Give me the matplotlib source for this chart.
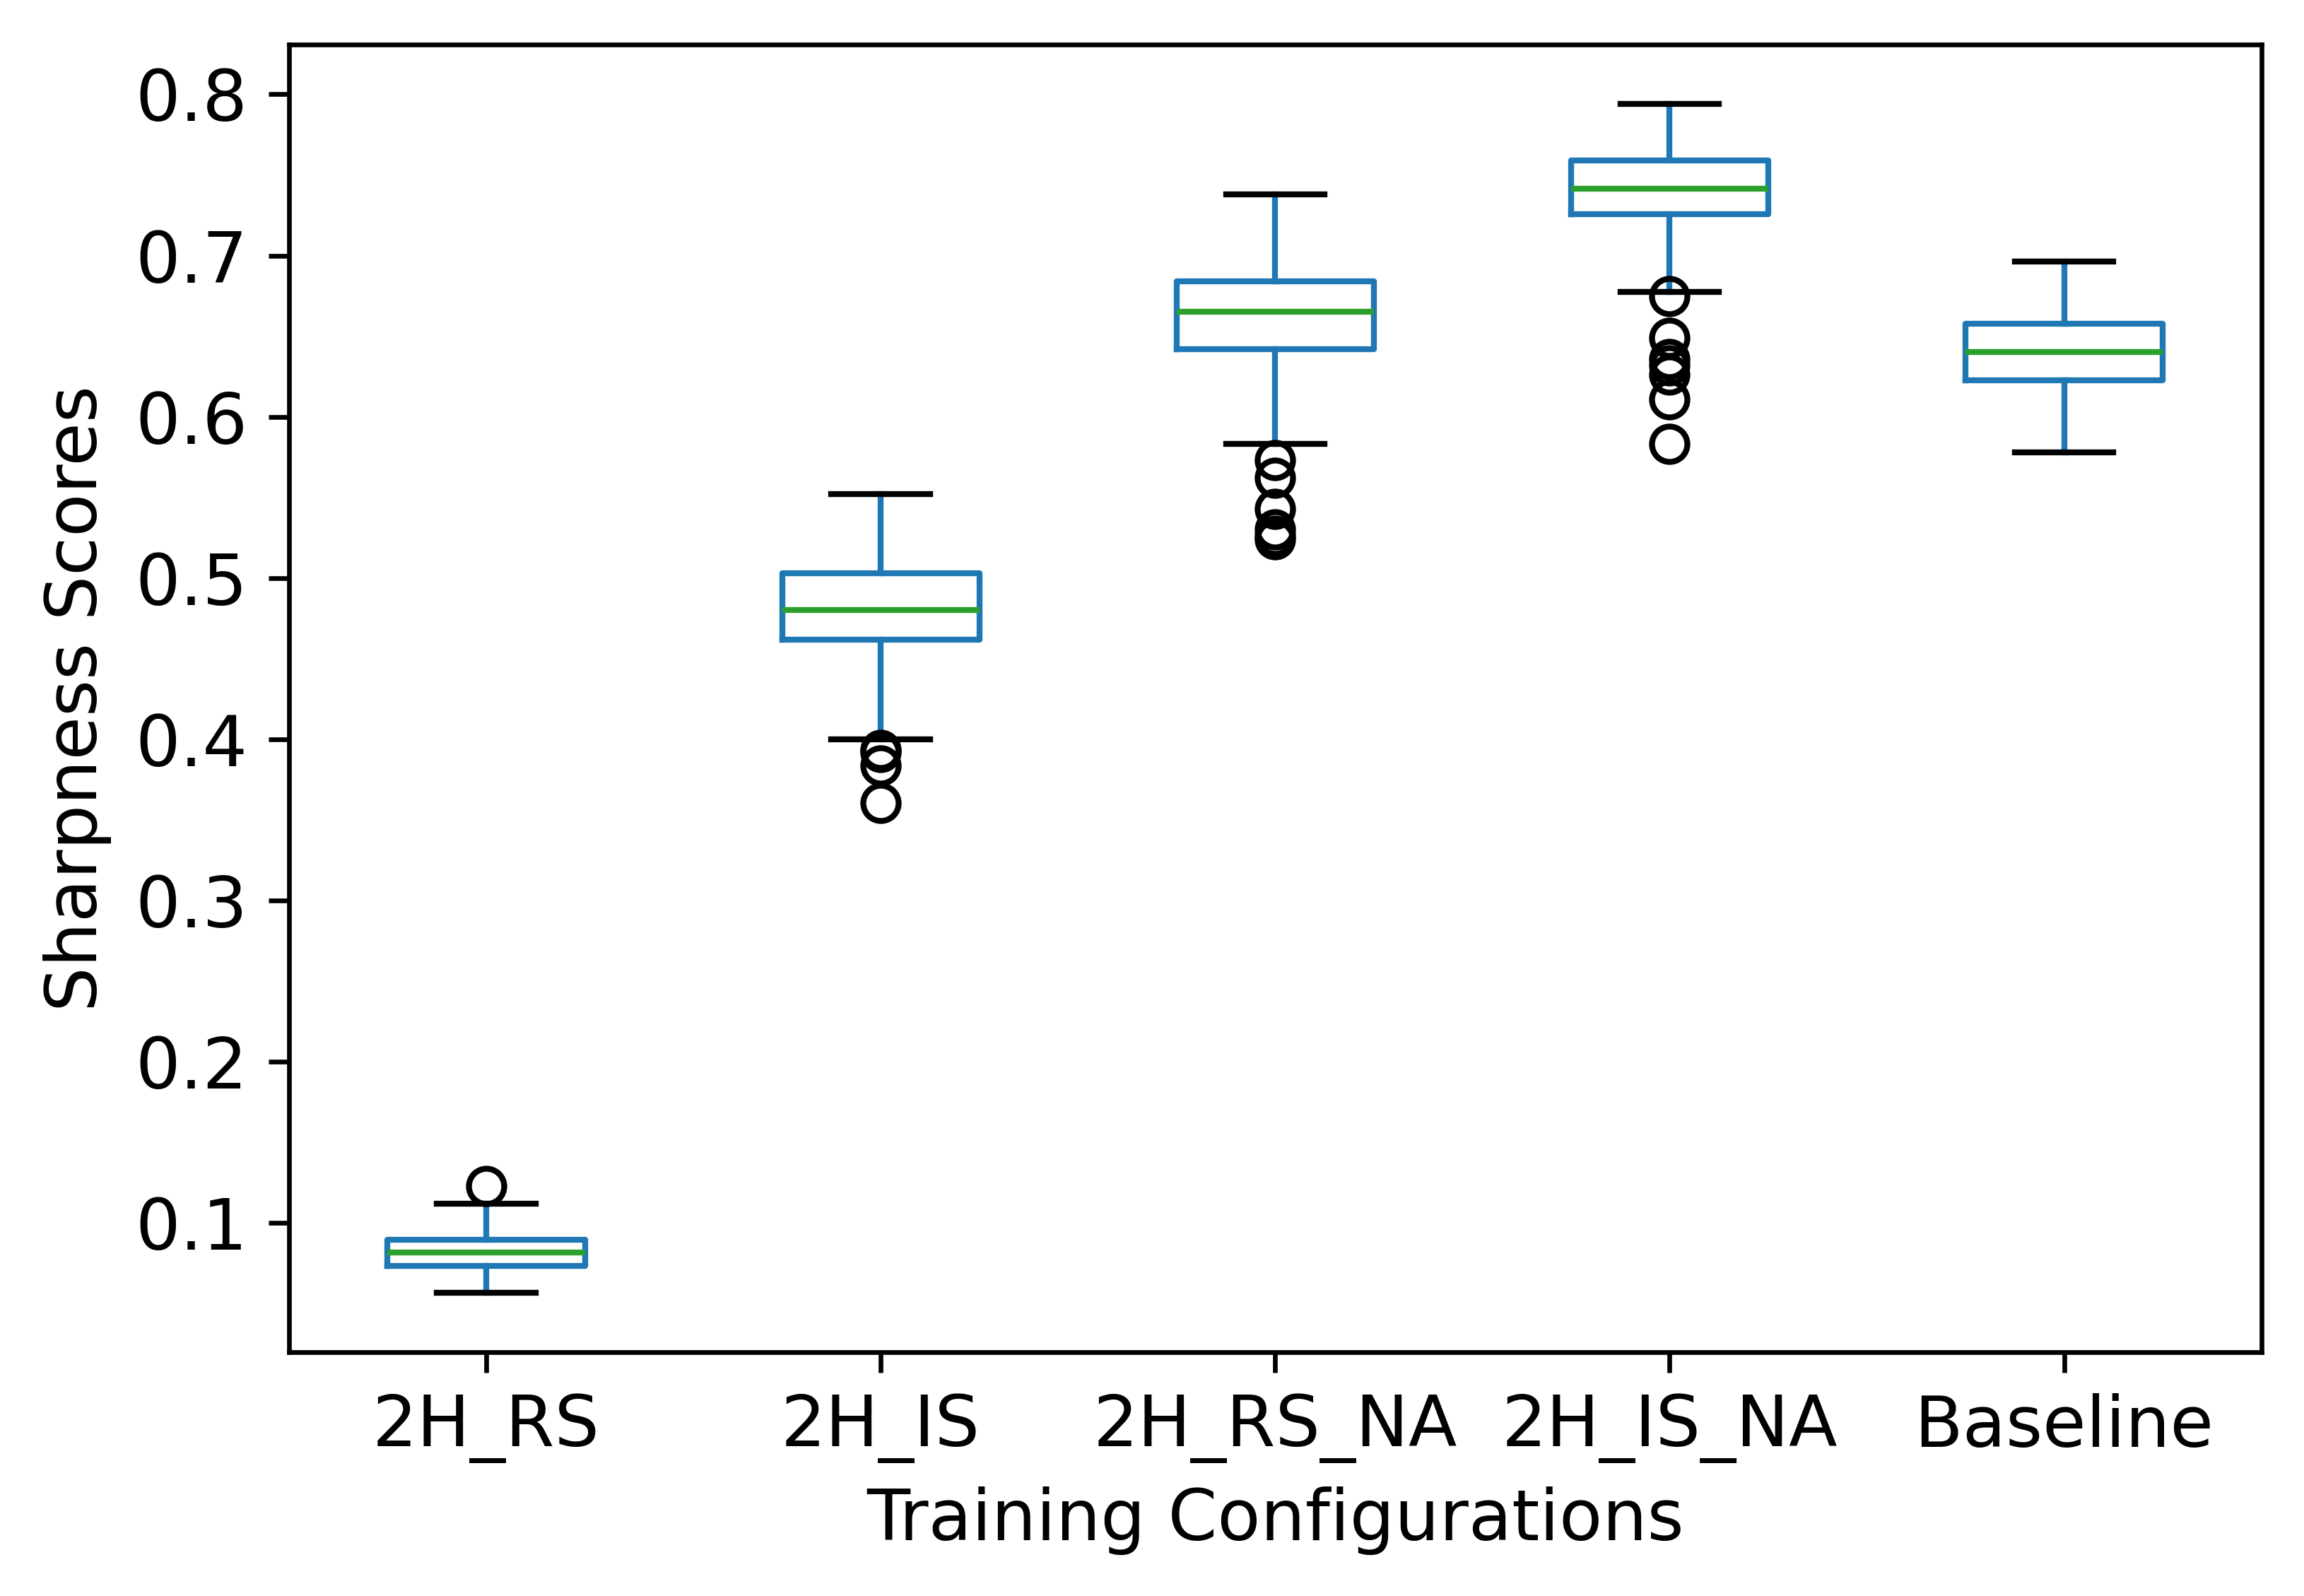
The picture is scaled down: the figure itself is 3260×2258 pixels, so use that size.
import matplotlib
matplotlib.use("Agg")
import matplotlib.pyplot as plt

# box statistics
configs = ["2H_RS", "2H_IS", "2H_RS_NA", "2H_IS_NA", "Baseline"]
whisker_low = [0.0568, 0.400, 0.5834, 0.6775, 0.5778]
q1 = [0.0732, 0.4618, 0.642, 0.7258, 0.6227]
medians = [0.0818, 0.4800, 0.6652, 0.7415, 0.6400]
q3 = [0.0898, 0.5032, 0.6842, 0.7588, 0.6575]
whisker_high = [0.112, 0.552, 0.7378, 0.7940, 0.6965]
outliers = [
    [0.1230],
    [0.3935, 0.3920, 0.3836, 0.3607],
    [0.573, 0.562, 0.543, 0.530, 0.526, 0.524],
    [0.675, 0.649, 0.636, 0.632, 0.626, 0.611, 0.583],
    [],
]

stats = []
for i, name in enumerate(configs):
    stats.append({
        "label": name,
        "whislo": whisker_low[i],
        "q1": q1[i],
        "med": medians[i],
        "q3": q3[i],
        "whishi": whisker_high[i],
        "fliers": outliers[i],
    })

plt.rcParams["font.size"] = 12
fig = plt.figure(figsize=(3261 / 600, 2258 / 600), dpi=600)
ax = fig.add_axes([0.1254, 0.1528, 0.8558, 0.8193])

ax.bxp(stats, widths=0.5,
       boxprops=dict(color="#1f77b4"),
       whiskerprops=dict(color="#1f77b4"),
       capprops=dict(color="black"),
       medianprops=dict(color="#2ca02c"),
       flierprops=dict(marker="o", markerfacecolor="none", markeredgecolor="black"))

ax.set_xlabel("Training Configurations")
ax.set_ylabel("Sharpness Scores")

fig.savefig("out.png", dpi=600)
